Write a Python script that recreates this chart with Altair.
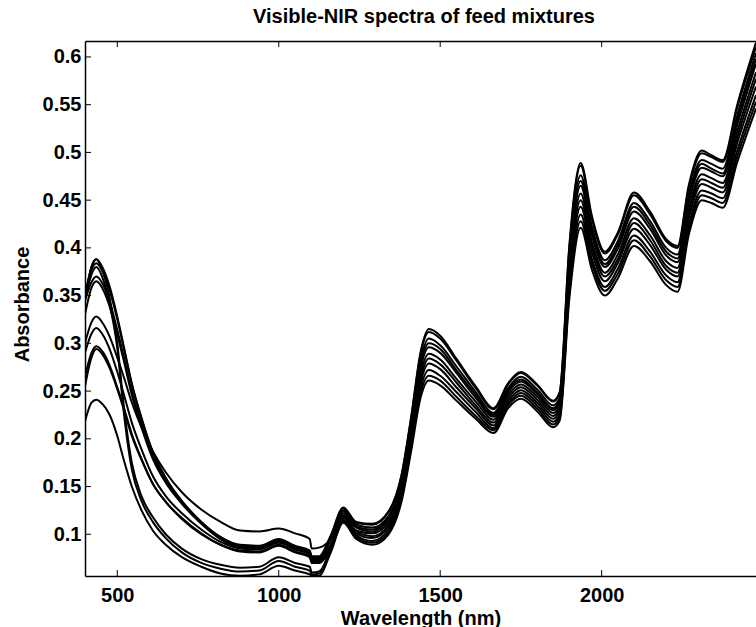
import altair as alt
import pandas as pd

# ---------------- data ----------------
wavelength = [400, 420, 435, 455, 475, 500, 520, 545, 575, 610, 650, 700, 760, 820, 880, 940,
              1000, 1050, 1096, 1102, 1125, 1160, 1200, 1240, 1290, 1340, 1380, 1410, 1440, 1465,
              1500, 1550, 1610, 1665, 1710, 1750, 1800, 1850, 1870, 1900, 1935, 1970, 2010, 2050,
              2100, 2150, 2200, 2235, 2270, 2310, 2340, 2375, 2420, 2478]

s01 = [0.300, 0.322, 0.328, 0.321, 0.308, 0.285, 0.265, 0.238, 0.212, 0.187, 0.165, 0.144, 0.126, 0.113,
       0.104, 0.103, 0.106, 0.101, 0.095, 0.085, 0.086,
       0.095, 0.122, 0.107, 0.103, 0.116, 0.152, 0.210, 0.275, 0.296, 0.290, 0.269, 0.243, 0.223, 0.249,
       0.260, 0.247, 0.230, 0.239, 0.383, 0.465, 0.413, 0.380, 0.399, 0.438, 0.420, 0.392, 0.385, 0.448,
       0.484, 0.480, 0.475, 0.529, 0.593]
s02 = [0.345, 0.364, 0.370, 0.362, 0.345, 0.314, 0.286, 0.249, 0.216, 0.182, 0.156, 0.134, 0.113, 0.097,
       0.089, 0.088, 0.095, 0.088, 0.083, 0.077, 0.077,
       0.098, 0.128, 0.113, 0.111, 0.124, 0.162, 0.223, 0.292, 0.315, 0.308, 0.284, 0.255, 0.232, 0.258,
       0.270, 0.257, 0.240, 0.249, 0.403, 0.489, 0.433, 0.396, 0.416, 0.458, 0.438, 0.409, 0.402, 0.466,
       0.502, 0.497, 0.492, 0.550, 0.615]
s03 = [0.330, 0.358, 0.365, 0.357, 0.340, 0.309, 0.282, 0.246, 0.212, 0.179, 0.154, 0.132, 0.111, 0.095,
       0.087, 0.086, 0.093, 0.086, 0.081, 0.075, 0.075,
       0.095, 0.125, 0.110, 0.107, 0.119, 0.157, 0.216, 0.283, 0.305, 0.298, 0.276, 0.249, 0.227, 0.253,
       0.265, 0.252, 0.235, 0.243, 0.392, 0.476, 0.422, 0.387, 0.407, 0.447, 0.428, 0.400, 0.393, 0.456,
       0.492, 0.488, 0.483, 0.539, 0.604]
s04 = [0.350, 0.377, 0.384, 0.375, 0.357, 0.325, 0.295, 0.257, 0.221, 0.186, 0.159, 0.135, 0.113, 0.097,
       0.088, 0.087, 0.094, 0.087, 0.082, 0.076, 0.076,
       0.097, 0.127, 0.112, 0.110, 0.123, 0.161, 0.221, 0.290, 0.312, 0.305, 0.282, 0.253, 0.231, 0.257,
       0.269, 0.256, 0.239, 0.248, 0.400, 0.486, 0.430, 0.394, 0.414, 0.455, 0.435, 0.407, 0.400, 0.463,
       0.499, 0.495, 0.490, 0.547, 0.610]
s05 = [0.290, 0.310, 0.316, 0.309, 0.295, 0.270, 0.247, 0.217, 0.189, 0.161, 0.140, 0.122, 0.105, 0.092,
       0.085, 0.084, 0.091, 0.084, 0.079, 0.073, 0.073,
       0.089, 0.119, 0.103, 0.098, 0.110, 0.146, 0.202, 0.264, 0.284, 0.278, 0.259, 0.235, 0.217, 0.243,
       0.254, 0.241, 0.224, 0.232, 0.371, 0.450, 0.401, 0.370, 0.388, 0.426, 0.408, 0.381, 0.374, 0.436,
       0.472, 0.468, 0.463, 0.516, 0.577]
s06 = [0.265, 0.290, 0.297, 0.291, 0.278, 0.254, 0.233, 0.205, 0.179, 0.153, 0.134, 0.116, 0.100, 0.089,
       0.082, 0.081, 0.088, 0.081, 0.076, 0.070, 0.070,
       0.085, 0.115, 0.099, 0.093, 0.105, 0.140, 0.194, 0.254, 0.272, 0.266, 0.249, 0.228, 0.211, 0.237,
       0.248, 0.235, 0.218, 0.225, 0.358, 0.435, 0.388, 0.359, 0.378, 0.413, 0.396, 0.371, 0.364, 0.424,
       0.460, 0.457, 0.452, 0.502, 0.560]
s07 = [0.255, 0.285, 0.294, 0.288, 0.275, 0.252, 0.231, 0.203, 0.178, 0.153, 0.134, 0.117, 0.101, 0.089,
       0.083, 0.082, 0.089, 0.082, 0.077, 0.071, 0.071,
       0.087, 0.117, 0.101, 0.096, 0.108, 0.143, 0.199, 0.260, 0.279, 0.273, 0.254, 0.232, 0.214, 0.240,
       0.251, 0.238, 0.221, 0.229, 0.365, 0.443, 0.395, 0.365, 0.384, 0.420, 0.403, 0.377, 0.370, 0.431,
       0.467, 0.463, 0.458, 0.510, 0.569]
s08 = [0.345, 0.380, 0.388, 0.379, 0.361, 0.328, 0.297, 0.258, 0.222, 0.186, 0.159, 0.134, 0.112, 0.095,
       0.086, 0.085, 0.092, 0.085, 0.080, 0.074, 0.074,
       0.094, 0.124, 0.108, 0.105, 0.117, 0.154, 0.213, 0.279, 0.300, 0.294, 0.272, 0.246, 0.225, 0.251,
       0.262, 0.249, 0.232, 0.241, 0.388, 0.470, 0.418, 0.383, 0.403, 0.443, 0.424, 0.396, 0.389, 0.452,
       0.488, 0.483, 0.478, 0.534, 0.598]
s09 = [0.350, 0.380, 0.388, 0.375, 0.350, 0.300, 0.235, 0.175, 0.140, 0.118, 0.100, 0.085, 0.074, 0.068,
       0.065, 0.066, 0.076, 0.070, 0.066, 0.060, 0.061,
       0.082, 0.114, 0.097, 0.091, 0.102, 0.137, 0.191, 0.249, 0.266, 0.261, 0.244, 0.224, 0.209, 0.235,
       0.245, 0.232, 0.215, 0.222, 0.353, 0.428, 0.383, 0.355, 0.373, 0.408, 0.391, 0.366, 0.359, 0.419,
       0.455, 0.452, 0.447, 0.496, 0.553]
s10 = [0.345, 0.372, 0.380, 0.368, 0.343, 0.295, 0.228, 0.168, 0.135, 0.113, 0.096, 0.081, 0.070, 0.064,
       0.061, 0.062, 0.072, 0.066, 0.062, 0.058, 0.059,
       0.086, 0.120, 0.104, 0.101, 0.113, 0.149, 0.206, 0.269, 0.289, 0.283, 0.263, 0.239, 0.220, 0.246,
       0.257, 0.244, 0.227, 0.235, 0.376, 0.457, 0.406, 0.374, 0.393, 0.431, 0.413, 0.386, 0.379, 0.441,
       0.477, 0.473, 0.468, 0.522, 0.584]
s11 = [0.218, 0.238, 0.241, 0.236, 0.226, 0.203, 0.178, 0.150, 0.125, 0.104, 0.089, 0.076, 0.066, 0.059,
       0.0565, 0.058, 0.067, 0.062, 0.058, 0.0563, 0.0565,
       0.080, 0.112, 0.095, 0.089, 0.100, 0.134, 0.187, 0.244, 0.261, 0.256, 0.240, 0.221, 0.206, 0.232,
       0.242, 0.229, 0.212, 0.219, 0.347, 0.421, 0.377, 0.350, 0.368, 0.402, 0.386, 0.361, 0.354, 0.414,
       0.450, 0.447, 0.442, 0.490, 0.546]

spectra = {"s01": s01, "s02": s02, "s03": s03, "s04": s04, "s05": s05, "s06": s06,
           "s07": s07, "s08": s08, "s09": s09, "s10": s10, "s11": s11}

x_ticks = [500, 1000, 1500, 2000]
y_ticks = [0.1, 0.15, 0.2, 0.25, 0.3, 0.35, 0.4, 0.45, 0.5, 0.55, 0.6]
x_domain = [400, 2478]
y_domain = [0.0563, 0.6167]

title_text = "Visible-NIR spectra of feed mixtures"
x_title = "Wavelength (nm)"
y_title = "Absorbance"

# ---------------- build table ----------------
rows = []
for name, vals in spectra.items():
    for w, a in zip(wavelength, vals):
        rows.append({"spectrum": name, "wavelength": w, "absorbance": a})
df = pd.DataFrame(rows)
xt = pd.DataFrame({"v": x_ticks})
yt = pd.DataFrame({"v": y_ticks})

W, H = 671, 535
FONT = "Liberation Sans"
FS = 20

xscale = alt.Scale(domain=x_domain, nice=False, zero=False)
yscale = alt.Scale(domain=y_domain, nice=False, zero=False)

common_axis = dict(
    grid=False, ticks=False, tickSize=0, domainColor="black", domainWidth=1.5,
    labelFont=FONT, labelFontSize=FS, labelFontWeight="bold", labelColor="black",
    titleFont=FONT, titleFontSize=FS, titleFontWeight="bold", titleColor="black",
)

lines = alt.Chart(df).mark_line(
    color="black", strokeWidth=2, interpolate="monotone", clip=True
).encode(
    x=alt.X("wavelength:Q", scale=xscale,
            axis=alt.Axis(values=x_ticks, format="d", title=x_title, orient="bottom",
                          labelPadding=9, titleY=48, titleBaseline="alphabetic",
                          labelFlush=False, **common_axis)),
    y=alt.Y("absorbance:Q", scale=yscale,
            axis=alt.Axis(values=y_ticks, format=".2~f", title=y_title, orient="left",
                          labelPadding=4, titleX=-57, titleY=263, titleAngle=-90,
                          titleAlign="center", titleBaseline="alphabetic",
                          labelFlush=False, **common_axis)),
    detail="spectrum:N",
)

top_ticks = alt.Chart(xt).mark_rule(color="black", strokeWidth=1).encode(
    x=alt.X("v:Q", scale=xscale,
            axis=alt.Axis(orient="top", labels=False, title=None, ticks=False, tickSize=0,
                          grid=False, domainColor="black", domainWidth=1.5)),
    y=alt.value(0), y2=alt.value(6),
)
bottom_ticks = alt.Chart(xt).mark_rule(color="black", strokeWidth=1).encode(
    x=alt.X("v:Q", scale=xscale, axis=None),
    y=alt.value(H), y2=alt.value(H - 6),
)
left_ticks = alt.Chart(yt).mark_rule(color="black", strokeWidth=1).encode(
    y=alt.Y("v:Q", scale=yscale, axis=None),
    x=alt.value(0), x2=alt.value(6),
)

chart = alt.layer(lines, top_ticks, bottom_ticks, left_ticks).resolve_axis(
    x="independent", y="independent"
).properties(
    width=W, height=H,
    title=alt.TitleParams(title_text, font=FONT, fontSize=FS, fontWeight="bold", color="black",
                          anchor="middle", offset=-2, dx=3.5, baseline="alphabetic"),
    autosize=alt.AutoSizeParams(type="none"),
    padding={"left": 85, "top": 41, "right": 0, "bottom": 51},
    background="white",
).configure_view(stroke=None)

chart.save("out.html", embed_options={"renderer": "svg", "actions": False})
